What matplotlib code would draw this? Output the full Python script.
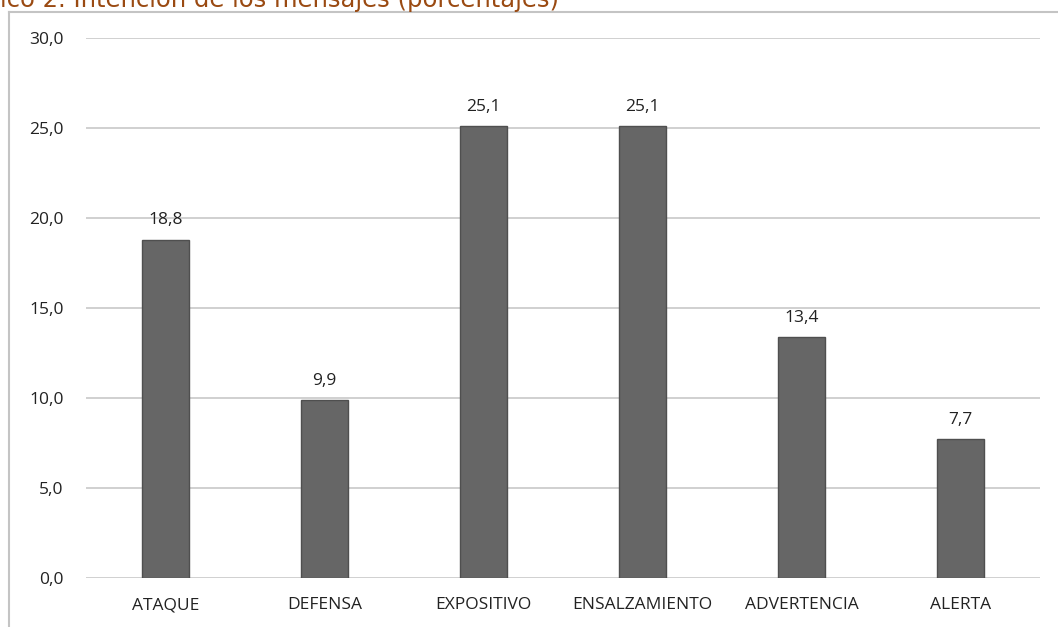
import matplotlib.pyplot as plt
from matplotlib.lines import Line2D

categories = ["ATAQUE", "DEFENSA", "EXPOSITIVO", "ENSALZAMIENTO", "ADVERTENCIA", "ALERTA"]
values = [18.8, 9.9, 25.1, 25.1, 13.4, 7.7]
y_ticks = [0, 5, 10, 15, 20, 25, 30]

W, H = 1058, 627
fig = plt.figure(figsize=(W / 100, H / 100), dpi=100)
ax = fig.add_axes([86 / W, (H - 578) / H, (1040 - 86) / W, (578 - 38) / H])

x = range(len(categories))
ax.bar(x, values, width=0.3, color="#666666", edgecolor="#4f4f4f", linewidth=1, zorder=3)
for xi, v in zip(x, values):
    ax.annotate(f"{v:.1f}".replace(".", ","), (xi, v), xytext=(0, 8), textcoords="offset points",
                ha="center", va="bottom", fontsize=12.5, color="#222222", family="Open Sans")

ax.set_xlim(-0.5, len(categories) - 0.5)
ax.set_ylim(0, 30)
ax.set_yticks(y_ticks)
ax.set_yticklabels([f"{t:.1f}".replace(".", ",") for t in y_ticks])
ax.set_xticks(list(x))
ax.set_xticklabels(categories)
ax.grid(axis="y", color="#c8c8c8", linewidth=1.2, zorder=0)
ax.tick_params(length=0, labelsize=12.5, labelcolor="#222222")
ax.tick_params(axis="y", pad=16)
ax.tick_params(axis="x", pad=14)
for lab in ax.get_xticklabels() + ax.get_yticklabels():
    lab.set_family("Open Sans")
for s in ax.spines.values():
    s.set_visible(False)

# outer frame (left and top edges visible)
fig.add_artist(Line2D([9 / W, 9 / W], [0, (H - 11.5) / H], color="#c4c4c4", linewidth=1.5))
fig.add_artist(Line2D([9 / W, 1], [(H - 11.5) / H, (H - 11.5) / H], color="#c4c4c4", linewidth=1.5))

# title is cropped at the top edge, as in the source image
fig.text(0, (H - 7) / H, "ico 2. Intención de los mensajes (porcentajes)", fontsize=17.5,
         color="#9a4a12", family="DejaVu Sans", va="baseline", ha="left")

fig.savefig("out.png", dpi=100)
